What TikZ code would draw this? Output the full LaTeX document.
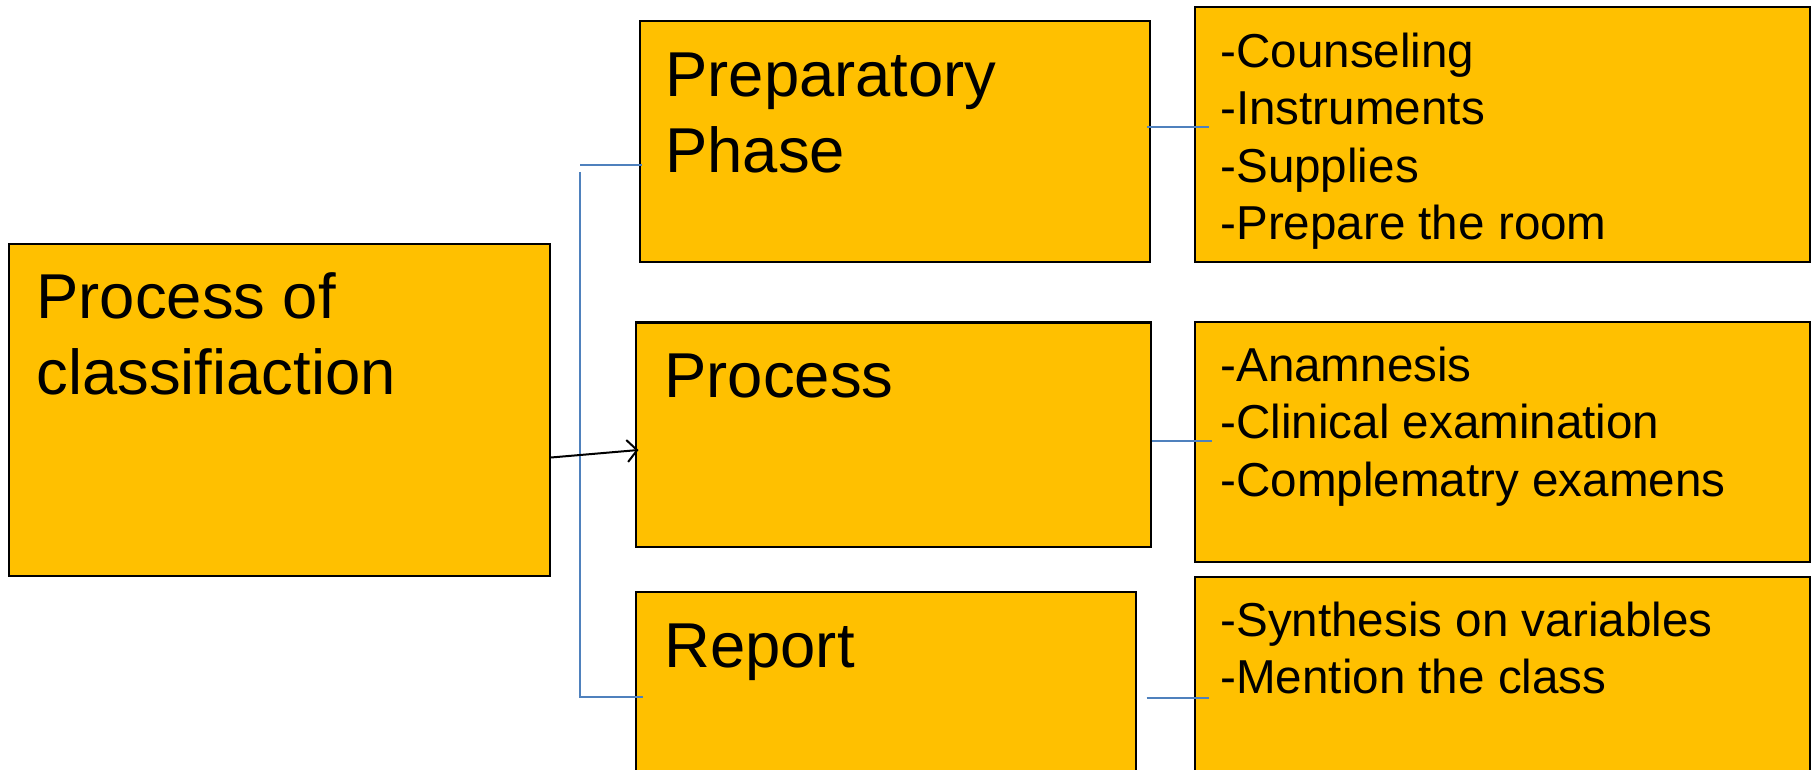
\documentclass[tikz,border=0pt]{standalone}
\usepackage{fontspec}
\setmainfont{Liberation Sans}
\usetikzlibrary{arrows.meta,calc,fit}
\definecolor{gold}{HTML}{FFC000}
\definecolor{linkblue}{HTML}{4F81BD}
\tikzset{
  box/.style={draw=black, fill=gold, line width=1pt, rectangle, inner sep=0pt},
  bigtext/.style={anchor=base west, inner sep=0pt, font=\fontsize{31.7}{38}\selectfont},
  smalltext/.style={anchor=base west, inner sep=0pt, font=\fontsize{23.8}{28.65}\selectfont},
  link/.style={draw=linkblue, line width=1.2pt},
  arrowline/.style={draw=black, line width=1pt, -{Straight Barb[length=5pt,width=11pt]}}
}
\begin{document}
\begin{tikzpicture}[x=0.5pt, y=-0.5pt]
\clip (0,0) rectangle (1815,770);
\fill[white] (0,0) rectangle (1815,770);

% boxes
\node[box, fit={(9,244)(550,576)}] (m) {};
\node[box, fit={(640,21)(1150,262)}] (p1) {};
\node[box, fit={(635.5,322.5)(1150.5,546.5)}] (p2) {};
\node[box, fit={(635.5,592)(1135.5,820)}] (p3) {};
\node[box, fit={(1195,7)(1810,262)}] (r1) {};
\node[box, fit={(1195,322)(1810,562)}] (r2) {};
\node[box, fit={(1195,577)(1810,820)}] (r3) {};

% bracket joining the three phases
\coordinate (bt) at (580,165);
\coordinate (bv) at (580,172);
\coordinate (bb) at (580,697);
\draw[link] (bt) -- ($(p1.west |- bt)+(3,0)$);
\draw[link] (bv) -- (bb) -- ($(p3.west |- bb)+(8,0)$);

% phase to detail links
\coordinate (y1) at (0,127);
\coordinate (y2) at (0,441);
\coordinate (y3) at (0,698);
\draw[link] ($(p1.east |- y1)+(-4,0)$) -- ($(r1.west |- y1)+(15,0)$);
\draw[link] ($(p2.east |- y2)+(0,0)$) -- ($(r2.west |- y2)+(18,0)$);
\draw[link] ($(p3.east |- y3)+(10,0)$) -- ($(r3.west |- y3)+(15,0)$);

% main arrow
\draw[arrowline] ($(m.east)+(0,47.5)$) -- ($(p2.west)+(4,15.5)$);

% texts
\node[bigtext] (mt) at (36,319) {\vtop{\hbox{Process of}\hbox{classifiaction}}};
\node[bigtext] (p1t) at (665,97) {\vtop{\hbox{Preparatory}\hbox{Phase}}};
\node[bigtext] (p2t) at (664,397) {Process};
\node[bigtext] (p3t) at (664,667) {Report};
\node[smalltext] (r1t) at (1220,67.5) {\vtop{\hbox{-Counseling}\hbox{-Instruments}\hbox{-Supplies}\hbox{-Prepare the room}}};
\node[smalltext] (r2t) at (1220,381.5) {\vtop{\hbox{-Anamnesis}\hbox{-Clinical examination}\hbox{-Complematry examens}}};
\node[smalltext] (r3t) at (1220,636) {\vtop{\hbox{-Synthesis on variables}\hbox{-Mention the class}}};
\end{tikzpicture}
\end{document}
